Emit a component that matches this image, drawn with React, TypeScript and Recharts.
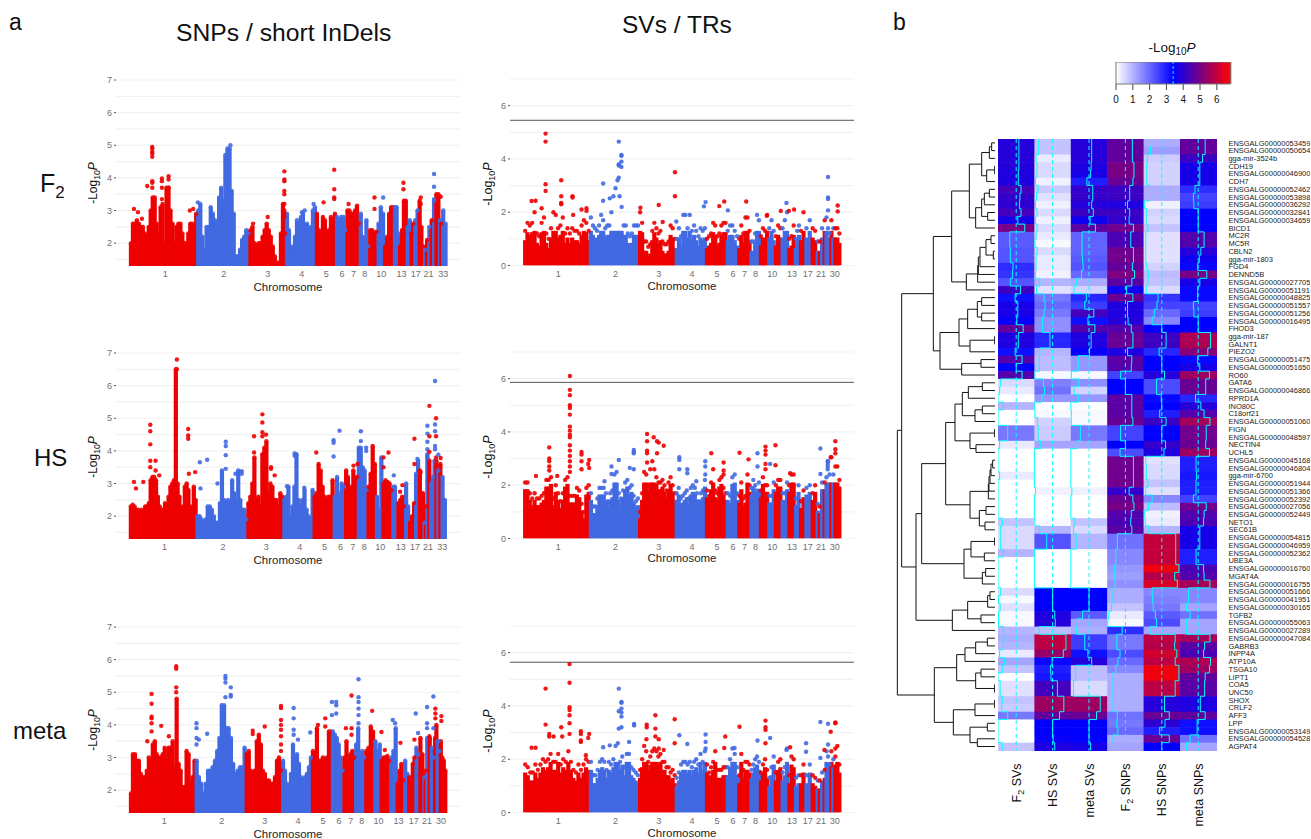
import {
  ComposedChart, ScatterChart, Scatter, Bar, XAxis, YAxis, CartesianGrid, ReferenceLine,
} from "recharts";

const RED = "#ee0000";
const BLUE = "#4169e1";
const FONT = "'Liberation Sans', Arial, sans-serif";

const f2SnpWidths = [202,157,110,90,60,32,40,28,25,20,30,15,23,12,10,14,16,6,6,8,6,8,12,4,4,14];
const hsSnpWidths = [200,153,108,91,60,35,38,29,25,20,30,15,23,12,18,12,14,5,3,6,6,15,6,6,6,14];
const metaSnpWidths = [197,151,109,90,60,35,35,30,27,20,28,20,22,13,21,12,12,6,2,7,8,10,8,9,18];
const svWidths = [198,148,110,91,62,35,37,28,25,20,20,20,20,15,15,20,15,8,4,10,6,14,6,6,18];

const f2SnpTicks = [106,282,414,516,590,637,672,706,755,816,859,897,942];
const hsSnpTicks = [104,280,410,510,585,633,670,704,752,814,857,896,939];
const metaSnpTicks = [103,276,405,505,580,628,664,697,747,807,853,893,935];
const svTicks = [103,275,405,505,580,628,663,696,746,806,853,893,934];
const tickNamesA = ["1","2","3","4","5","6","7","8","10","13","17","21","33"];
const tickNamesB = ["1","2","3","4","5","6","7","8","10","13","17","21","30"];

// envelope of the point cloud, one list per chromosome
const f2SnpTops = [
  [2.0,2.6,2.6,2.7,2.6,2.5,2.5,2.3,2.2,2.5,3.0,3.4,3.4,2.6,2.3,3.1,3.2,2.0,3.7,3.7,3.0,2.6,2.0,2.5,2.6,2.6,2.3,2.0,2.0,2.3,2.6,2.6,2.5,2.9],
  [3.0,3.2,2.2,1.8,2.5,2.5,3.1,2.9,2.7,2.4,3.4,3.7,3.3,4.7,4.9,4.9,3.6,2.9,1.6,1.6,1.8,2.1,2.2,2.4,2.3],
  [2.4,2.5,2.0,1.9,2.0,2.0,2.2,2.4,2.6,2.4,2.2,1.9,1.6,1.4,1.4,2.3,3.2,2.3],
  [2.9,2.4,1.9,1.7,2.2,2.7,2.5,2.8,2.9,2.2,2.6,2.4,2.5,3.0,3.1],
  [2.9,2.4,2.3,2.8,2.7,2.3,2.4,2.8,2.4,2.9],
  [2.8,2.7,2.8,2.8,2.4],
  [3.0,3.0,2.9,2.9,3.0,3.15,2.6],
  [2.9,2.2,2.1,2.7,1.9],
  [2.4,2.4,2.3,2.35],
  [2.6,3.1,2.9],
  [1.9,2.2,2.9,3.1,3.1],
  [3.1,3.1,2.3],
  [1.9,2.4,3.3,3.3],
  [2.5,2.7],
  [2.3,2.6],
  [2.7,3.0],
  [3.3,2.5,1.9],
  [1.8],[2.1],[2.5],[2.7],[3.3],[3.5,3.5],[2.7],[2.6],[3.0,2.6],
];
const f2SnpHits = [
  [12,3.05],[24,2.95],[36,2.75],[52,3.75],[67,4.95,4.9,4.8,4.75,4.65,3.9,3.85,3.7],[96,3.98,3.9,3.7,3.35],
  [116,4.05,3.95,3.7],[180,3.0],[190,3.05],[204,3.25],[302,5.0],[370,2.6],[414,2.8],
  [464,4.2,3.95,3.9,3.6,3.5,3.2,3.0,2.9,2.8],[517,2.95],[525,3.0],[552,3.2],[582,3.25],[614,4.25,3.65,3.4,3.35],
  [657,3.2],[735,3.4,3.05],[761,3.4],[822,3.85,3.65],[874,3.4,3.2],[914,4.12,3.73,3.35],[934,3.42],
];

const hsSnpTops = [
  [2.3,2.35,2.3,2.2,2.2,2.1,2.2,2.1,2.3,2.3,2.4,3.1,3.2,3.2,3.1,2.6,2.3,2.2,2.2,2.4,2.2,2.6,2.9,3.0,3.1,6.5,3.0,2.6,2.3,2.2,2.9,3.0,2.8,2.3,1.5,2.9,2.5],
  [2.0,2.0,1.9,1.8,1.9,2.3,2.3,2.2,2.0,1.8,1.8,2.4,3.4,2.5,2.4,2.5,2.4,3.1,2.7,2.4,3.4,2.5,2.2,2.2,1.9],
  [2.4,2.6,3.0,3.8,2.5,2.6,2.3,3.9,4.1,4.3,2.7,3.0,2.9,2.5,2.5,2.3,2.7,2.6],
  [2.5,2.6,2.9,2.0,2.3,2.9,3.9,2.5,2.3,2.5,2.8,2.2,2.0,1.9,2.8],
  [2.6,2.7,3.6,3.4,2.9,2.6,2.5,2.6,2.6,3.1],
  [2.6,3.2,2.7,3.0,2.9],
  [3.4,3.2,2.2,2.9,3.4,3.1,3.2],
  [4.1,4.1,3.5,3.4,2.8],
  [2.9,3.3,4.15,3.6],
  [2.6,2.2,3.8],
  [3.0,3.1,3.05,3.0,2.8],
  [2.9,2.9,2.4],
  [2.4,2.5,2.6,2.3],
  [3.0,2.3],
  [1.8,2.0,2.4],
  [3.3,3.7],
  [3.4,2.7,2.7],
  [1.8],[2.3],[3.9],[3.7],[3.0,3.2,3.7],[3.7],[3.4],[3.6],[3.2,2.5],
];
const hsSnpHits = [
  [12,3.05],[18,2.85],[40,3.05],[61,4.8,4.6,4.2,3.7,3.5],[77,3.7,3.4],[88,3.25],[141,6.8,6.5],[175,4.67,4.47,4.37],
  [177,3.3],[196,3.35],[210,3.65],[212,2.85],[232,3.73],[263,3.0],[288,4.28,4.15,3.87,3.45],[317,3.3],[336,3.38,3.3],
  [373,4.45,3.95],[398,5.12,4.87,4.57,4.45],[409,4.5],[424,3.5,3.45],[435,3.25],[472,2.92],[495,3.92,3.85],[524,2.87],
  [560,3.95],[612,4.33,4.25,3.83],[630,4.62],[672,3.55],[684,3.6],[694,4.6,4.3],[710,4.1,4.0],[762,3.8,3.5],[777,3.95],
  [793,3.25],[812,2.75],[819,2.95],[855,4.37,3.6],[864,3.75],[874,3.35],[894,4.77,4.53,4.28,4.05,3.8],[900,5.38,4.45,3.97],
  [917,6.14,4.81,4.6,4.15,4.05],[920,5.0,4.45,3.8],[927,3.88],[934,3.78],
];

const metaSnpTops = [
  [1.9,3.1,3.1,2.9,2.9,2.5,2.4,2.4,2.6,3.0,2.9,3.4,3.5,3.1,3.0,3.0,3.1,3.3,2.9,3.3,3.3,3.5,2.7,4.8,2.8,2.6,2.1,2.1,3.2,3.1,2.2,2.4,2.9],
  [2.9,2.4,2.2,1.9,2.2,2.6,2.6,2.7,2.9,3.2,3.6,4.6,4.6,3.9,3.9,3.6,2.8,2.5,2.6,2.7,2.7,3.3],
  [3.1,3.2,2.6,2.5,2.6,3.5,3.7,3.4,2.6,2.5,2.3,2.3,2.2,2.2,2.4,2.9,3.0,2.6],
  [2.9,2.6,2.2,1.8,2.5,3.4,3.0,3.1,2.8,2.4,2.3,2.4,2.5,2.7,3.0],
  [3.2,3.0,3.9,2.9,2.9,3.0,2.9,3.0,3.8,3.8],
  [3.8,3.7,3.6,3.4,3.0,2.6],
  [3.0,3.5,2.9,3.1,3.2,3.0],
  [3.4,3.9,3.0,3.2,3.0],
  [3.2,3.3,3.95,3.8],
  [3.5,3.2,3.4],
  [2.9,3.0,3.0,3.05,2.9],
  [3.0,3.2,3.9],
  [2.2,2.6,2.8,2.3],
  [2.9,2.5],
  [2.4,2.2,2.8,3.0],
  [3.3,3.1],
  [3.6,3.1],
  [2.4],[2.6],[3.6],[3.6],[3.3,3.0],[3.6,4.0],[3.5,3.2],[3.5,3.0,2.9,2.6],
];
const metaSnpHits = [
  [52,3.5],[65,4.95,4.65,4.25,4.2,4.05,3.8],[94,3.97],[117,3.65],[139,5.8,5.72,5.15,5.0],[200,4.05,3.9,3.6,3.4],[207,3.55],
  [232,3.73],[287,5.5,5.42,5.3,4.85],[303,5.15,4.92,4.87],[369,3.82,3.72],[405,3.95],[454,4.58,4.52,4.15,4.0,3.85,3.65,3.4,3.2],
  [492,4.52,4.2,3.85,3.7],[505,3.55],[542,3.77],[565,4.0],[587,4.2,3.95],[607,4.7,4.3],[620,4.7,4.6,4.35],[649,3.9],[666,4.9,3.9,3.7],
  [687,5.4,4.85,4.7,4.5,4.3,4.05],[728,4.43],[756,3.78],[766,3.23],[790,4.15],[797,4.05],[813,3.45],[859,4.35],[855,3.55],[866,3.75],
  [893,4.55,4.05,3.9],[900,3.65],[912,4.87,3.9],[918,4.5,4.35,4.2],[927,3.5],[936,4.27,4.12],
];

const f2SvTops = [
  [1.3,1.6,1.5,1.6,2.0,1.2,1.1,1.6,1.8,1.2,1.0,1.4,2.0,1.9,1.4,1.5,1.8,1.2,1.4,1.2,1.4,1.3,1.3,1.2,1.5,1.7,1.6,1.3],
  [1.8,1.5,1.4,1.3,1.5,1.9,1.7,1.4,1.5,1.5,2.0,2.6,2.9,3.2,2.6,2.2,1.5,1.5,1.2,1.1,1.2,1.5,1.5,1.5],
  [2.0,1.6,0.9,0.9,0.7,0.8,1.3,1.6,1.4,1.2,1.3,0.9,0.8,0.8,0.9,1.5,1.4,1.0],
  [1.0,1.4,1.1,1.9,1.9,1.4,1.9,1.3,1.5,1.3,1.1,1.4,1.3,1.4],
  [1.0,1.1,1.2,1.6,1.5,1.1,1.2,1.5,1.6,1.6],
  [1.3,1.5,1.5,1.3,1.1],
  [1.0,1.5,1.2,1.8,1.8,1.3],
  [0.9,0.9,1.2,1.9,1.7],
  [1.1,1.4,1.3,1.9],
  [1.4,1.7,1.3],
  [1.1,1.5,1.4],
  [1.4,1.7,2.0],
  [1.0,1.1,1.5],
  [1.0,1.3,1.5],
  [1.3,2.0],
  [1.4,1.7],
  [1.4,1.3],
  [0.9],[0.9],[1.4],[1.7],[1.8,1.4,1.2],[1.7],[1.4],[1.4,1.4,1.2],
];
const f2SvHits = [
  [65,4.95,4.65,3.05,2.8],[23,2.42],[35,2.43],[53,2.15],[112,3.2,2.6,2.35,2.3],[146,2.6,2.55],[148,1.9],[173,2.1],[188,2.15,2.05],
  [238,3.08,2.43],[258,2.52],[285,4.65,3.8,3.75,3.3],[293,4.15,4.12,3.9,3.7],[350,2.17],[405,2.27],[417,1.63],[454,3.5,2.6],[458,1.65],
  [541,2.22],[546,2.38],[587,2.23],[602,2.4],[613,2.07],[668,2.4],[730,1.87],[772,2.05],[789,2.35],[796,2.05],[812,2.1],[914,3.32,2.55,2.5,2.07],[943,2.25,2.03],
];

const hsSvTops = [
  [2.1,2.1,1.7,1.5,1.7,1.5,1.5,1.6,1.7,2.2,2.2,2.3,1.5,2.0,1.7,1.4,1.7,2.2,2.3,1.6,1.6,1.6,1.9,1.8,1.3,1.0,1.9,2.0],
  [1.7,1.2,1.2,1.5,1.9,1.9,1.9,1.7,1.4,1.7,1.8,2.4,2.5,1.7,1.5,1.8,2.1,2.2,1.9,2.0,1.6,1.4,1.5],
  [1.0,1.7,2.5,2.4,2.0,2.6,2.9,2.6,2.3,2.1,2.1,2.2,2.0,1.8,2.1,2.3,2.0,1.7],
  [1.7,1.9,1.5,1.6,1.7,1.8,1.5,1.9,2.0,1.9,1.7,1.4,1.7,1.8,2.2],
  [1.8,1.6,2.1,2.6,1.8,1.7,2.2,2.3,1.9,1.7],
  [1.7,1.6,2.3,2.4,1.7],
  [1.6,2.1,1.5,1.6,2.4,2.0],
  [1.9,2.2,2.0,1.8,2.1],
  [1.8,2.3,2.0,2.0],
  [1.6,1.6,2.1],
  [2.0,2.2,2.2],
  [1.7,1.7,2.1],
  [2.0,2.4,2.4],
  [1.5,2.0],
  [1.4,1.8],
  [1.9,2.0],
  [1.7,2.0],
  [1.3],[1.2],[2.1],[2.1],[2.3,2.9,2.4],[3.05],[2.4],[2.7,2.7,2.2],
];
const hsSvHits = [
  [36,2.35],[76,3.42,3.0,2.9,2.7,2.55],[100,2.35],[138,6.1,5.58,5.38,5.0,4.9,4.65,4.2,4.05,3.9,3.8,3.5,3.3,3.1,2.9,2.7,2.5],
  [173,3.25,3.15,2.9,2.6],[193,2.8],[196,2.95,2.65],[242,2.15],[263,2.7,2.42],[285,2.95],[318,2.65],[330,3.32,3.25,3.2,2.6],
  [370,3.92,3.65,3.3,3.2,2.85],[390,3.8],[400,3.65,3.2],[405,3.6],[420,3.48],[467,3.05,2.95,2.6],[491,2.6,2.45],[518,2.15],[545,2.9,2.7,2.4],
  [563,3.2],[600,2.85,2.55,2.4],[648,3.22],[675,2.97],[702,3.2,2.7],[726,3.45,3.3,3.15,2.8,2.6],[740,2.8],[756,3.5,2.75],[800,2.45],
  [891,3.38,2.42],[913,2.9,2.8,2.7,2.6],[922,3.05],[936,3.65,3.35,3.2],
];

const metaSvTops = [
  [1.8,1.7,1.5,1.5,1.8,1.6,1.8,2.0,1.9,2.0,2.2,1.9,1.9,2.2,1.8,2.0,1.9,2.3,1.9,1.6,1.5,1.8,1.6,1.8,2.0,1.9],
  [1.9,1.4,1.4,1.6,1.9,2.0,1.9,1.6,1.9,1.8,2.0,2.5,2.6,1.9,2.1,1.7,2.2,2.2,1.7,1.6,1.5,1.4],
  [1.6,2.0,2.5,2.3,1.9,2.1,2.3,2.4,2.3,2.1,2.2,1.9,1.9,1.7,1.7,1.5,1.6,1.4],
  [1.3,1.5,1.8,1.9,1.9,1.8,1.9,1.7,1.9,2.0,1.8,2.2,1.9,2.3],
  [1.8,1.5,1.7,1.9,2.3,1.6,1.6,1.6,1.7,1.7],
  [1.7,2.0,2.4,2.2,1.7],
  [1.4,2.2,1.6,1.9,1.9,1.8],
  [1.6,1.8,2.0,2.1,1.9],
  [1.5,1.8,2.0,1.6],
  [1.3,1.7,2.1],
  [1.5,1.9,2.0],
  [1.5,1.7,2.4],
  [1.4,2.1,2.0],
  [1.3,1.4],
  [1.4,1.8],
  [1.4,1.8],
  [1.4,1.3],
  [1.2],[1.2],[1.5],[1.6],[2.3,2.1,1.8],[2.3],[2.0],[2.1,2.5,1.8],
];
const metaSvHits = [
  [65,4.65,3.3],[23,2.43],[35,2.43],[76,2.95,2.85],[89,2.85],[112,3.2],[115,2.85],[137,5.57,4.87,3.95,3.85,3.65,3.35,2.95],
  [171,3.05,2.95,2.7,2.65],[186,2.15],[193,2.8],[196,2.95],[238,2.45],[258,2.52],[285,4.65,3.8,3.15],[293,4.15,4.12,3.9,3.75,3.6,3.2],
  [316,2.65],[331,3.32,3.27],[369,3.3,3.2],[368,2.75],[395,3.65,3.15,2.85],[405,2.75,2.4],[420,2.35],[453,3.5,2.6],[467,2.9],[491,2.57],[546,2.93,2.65,2.4],
  [602,2.42],[605,2.85],[633,2.42],[648,3.22],[702,2.7],[726,3.45,3.2,3.1,2.6],[740,2.8],[789,2.35],[800,2.45],[848,2.6,2.28],[891,3.4,2.05],
  [903,2.35],[914,3.33,2.55],[922,3.03],[936,3.38,3.35,2.4],
];

const snpYTicks = [2,3,4,5,6,7];
const snpGrid = [1.5,2,2.5,3,3.5,4,4.5,5,5.5,6,6.5,7];
const svYTicks = [0,2,4,6];
const svGrid = [0,1,2,3,4,5,6,7];

const genes = [
  "ENSGALG00000053459","ENSGALG00000050654","gga-mir-3524b","CDH19","ENSGALG00000046900","CDH7","ENSGALG00000052462","ENSGALG00000053898",
  "ENSGALG00000036292","ENSGALG00000032841","ENSGALG00000034659","BICD1","MC2R","MC5R","CBLN2","gga-mir-1803","FGD4","DENND5B",
  "ENSGALG00000027705","ENSGALG00000051191","ENSGALG00000048825","ENSGALG00000051557","ENSGALG00000051256","ENSGALG00000016495","FHOD3",
  "gga-mir-187","GALNT1","PIEZO2","ENSGALG00000051475","ENSGALG00000051650","RO60","GATA6","ENSGALG00000046866","RPRD1A","INO80C","C18orf21",
  "ENSGALG00000051060","FIGN","ENSGALG00000048597","NECTIN4","UCHL5","ENSGALG00000045168","ENSGALG00000046804","gga-mir-6700",
  "ENSGALG00000051944","ENSGALG00000051366","ENSGALG00000052392","ENSGALG00000027056","ENSGALG00000052449","NETO1","SEC61B",
  "ENSGALG00000054815","ENSGALG00000046959","ENSGALG00000052362","UBE3A","ENSGALG00000016760","MGAT4A","ENSGALG00000016755",
  "ENSGALG00000051666","ENSGALG00000041951","ENSGALG00000030165","TGFB2","ENSGALG00000055063","ENSGALG00000027289","ENSGALG00000047084",
  "GABRB3","INPP4A","ATP10A","TSGA10","LIPT1","COA5","UNC50","SHOX","CRLF2","AFF3","LPP","ENSGALG00000053149","ENSGALG00000054528","AGPAT4",
];

const f2Svs = [3.9,3.9,3.9,3.9,3.8,3.8,4.3,4.1,4.0,4.3,3.7,5.0,2.2,2.2,2.3,2.3,2.8,2.7,2.3,4.2,3.2,3.7,3.7,3.5,4.7,3.8,3.8,3.2,4.5,3.4,4.5,.5,.3,0,1.0,0,0,1.8,1.8,.3,0,0,0,.3,0,0,0,0,0,.8,.5,.5,.5,1.0,0,0,0,0,.5,.1,.4,.1,.1,1.0,1.1,1.0,.3,1.2,.8,0,.4,.4,.8,.7,1.8,0,0,0,.8];
const hsSvs = [.8,.8,.3,.5,.5,.2,.7,.4,.2,.5,.2,.5,.3,.1,.5,.3,.3,.2,1.0,.4,1.8,2.0,1.8,1.5,1.5,2.9,2.9,1.0,.9,.9,.1,1.7,1.9,1.4,0,.1,.6,.7,.7,1.2,0,0,0,0,0,.2,0,0,0,.1,1.0,2.3,2.3,0,0,0,0,0,3.4,3.4,3.4,3.8,3.9,.9,5.9,5.9,5.4,3.3,3.0,3.1,4.3,4.3,5.5,5.5,4.7,3.4,3.4,3.5,3.8];
const metaSvs = [3.9,3.9,3.9,3.8,3.7,3.0,4.1,4.1,3.9,4.2,3.6,4.6,2.1,2.1,2.1,2.2,2.3,2.0,1.1,.6,2.9,2.6,4.3,3.2,4.5,3.8,3.8,3.5,1.4,1.4,.1,1.5,.6,1.4,0,.1,.1,1.8,1.8,1.2,0,0,0,0,0,.2,0,0,0,.8,.5,1.0,1.0,0,0,0,0,0,3.4,3.4,3.4,2.2,1.2,1.1,2.6,2.6,3.2,3.9,.9,.9,.5,.5,5.5,5.5,4.8,3.4,3.4,3.4,3.7];
const f2Snps = [4.7,4.7,4.7,5.0,5.0,4.8,4.2,4.2,3.8,4.2,4.1,4.9,4.4,4.4,4.9,4.9,4.7,5.1,4.6,3.6,4.8,3.8,3.8,3.9,4.5,4.8,4.8,3.8,4.6,4.5,2.5,3.4,3.4,4.6,4.6,4.6,4.8,2.5,2.5,3.4,2.4,4.9,4.9,4.9,4.9,4.1,4.8,5.0,4.5,4.4,4.6,1.9,1.9,1.6,1.6,1.4,1.3,1.5,1.1,1.1,.8,.3,.1,2.8,1.8,1.8,2.4,2.0,1.6,1.1,1.1,1.1,1.1,1.1,1.9,1.8,2.0,1.1,1.2];
const hsSnps = [1.1,1.3,.7,.6,.6,.6,1.1,1.1,.2,.6,.5,.8,.4,.4,.4,.4,.6,.9,.8,.5,2.7,2.5,2.0,1.6,3.4,4.2,4.2,2.9,3.4,3.4,3.9,2.4,2.4,3.3,3.4,3.0,4.2,3.4,3.4,4.1,3.8,.4,.5,.5,.8,.4,1.6,.9,.2,.3,1.0,6.0,6.0,6.0,6.0,6.6,5.8,6.3,1.6,1.7,1.8,2.2,2.4,1.2,5.9,5.8,6.2,5.9,6.6,6.6,5.9,5.9,3.9,3.9,4.8,4.0,3.0,4.8,3.4];
const metaSnps = [4.7,4.7,4.2,3.7,3.7,3.7,2.8,2.5,2.6,3.4,3.4,3.4,4.5,4.5,3.9,3.6,3.3,5.0,3.7,3.3,3.3,2.5,2.6,3.4,3.4,5.7,5.7,5.2,3.3,3.7,5.5,4.8,4.8,2.9,3.9,4.5,5.6,4.9,4.9,4.8,5.5,3.0,3.0,3.1,3.0,3.0,2.5,4.9,4.5,4.4,3.7,3.7,3.7,3.0,3.0,4.4,4.5,5.6,1.6,1.6,1.2,1.9,1.2,1.2,5.6,4.6,4.4,5.7,5.5,4.7,4.6,4.6,3.8,3.8,4.7,3.2,3.2,1.9,1.2];
const heatColumns = [f2Svs, hsSvs, metaSvs, f2Snps, hsSnps, metaSnps];

const KEY_MAX = 6.8;
const KEY_MID = 3.4;
const keyTicks = [0,1,2,3,4,5,6];

function heatColor(v: number) {
  if (v <= KEY_MID) {
    const c = Math.round(255 * (1 - v / KEY_MID));
    return `rgb(${c},${c},255)`;
  }
  const t = (v - KEY_MID) / (KEY_MAX - KEY_MID);
  return `rgb(${Math.round(255 * t)},0,${Math.round(255 * (1 - t))})`;
}

// dendrogram: [height, left, right], a 0 child is a leaf
const n = (h: number, a: any, b: any) => [h, a, b];
const g1_3 = n(17, n(10,0,0), 0);
const g4_6 = n(25, n(1,0,0), 0);
const g7_11 = n(40, n(32, n(17,0,0), 0), n(22,0,0));
const g1_12 = n(77, n(40, g1_3, g4_6), n(58, g7_11, 0));
const g13_16 = n(27, n(12,0,0), n(5,0,0));
const g13_20 = n(86, n(52, n(50, n(45, g13_16, 0), 0), 0), 0);
const g21_25 = n(82, n(53, n(40,0,0), n(40,0,0)), 0);
const g21_28 = n(108, g21_25, n(75, n(1,0,0), 0));
const g21_31 = n(165, g21_28, n(100, n(42,0,0), 0));
const g1_31 = n(185, n(130, g1_12, g13_20), g21_31);
const g32_37 = n(98, n(80, n(38,0,0), 0), n(60, n(38,0,0), 0));
const g32_41 = n(120, g32_37, n(75, n(1,0,0), n(57,0,0)));
const g42_47 = n(20, n(18, n(15, n(12, n(7,0,0), 0), 0), 0), 0);
const g42_51 = n(75, g42_47, n(47, n(27,0,0), n(30,0,0)));
const g52_58 = n(93, n(72, n(1,0,0), n(32,0,0)), n(38, n(28,0,0), 0));
const g32_58 = n(220, n(148, g32_41, g42_51), g52_58);
const g59_64 = n(128, n(82, n(22, n(15,0,0), 0), n(42,0,0)), 0);
const g65_72 = n(115, n(90, n(58, n(23,0,0), 0), 0), n(58, n(42,0,0), n(1,0,0)));
const g73_79 = n(125, n(60, n(1,0,0), 0), n(75, n(23,0,0), n(53,0,0)));
const treeRoot = n(293, n(280, g1_31, n(237, g32_58, g59_64)), n(182, g65_72, g73_79));

function treeBrackets() {
  const out: { x: number; y: number }[][] = [];
  let leaf = 0;
  const walk = (node: any): { h: number; y: number } => {
    if (node === 0) {
      leaf += 1;
      return { h: 0, y: leaf - 0.5 };
    }
    const a = walk(node[1]);
    const b = walk(node[2]);
    out.push([{ x: a.h, y: a.y }, { x: node[0], y: a.y }, { x: node[0], y: b.y }, { x: b.h, y: b.y }]);
    return { h: node[0], y: (a.y + b.y) / 2 };
  };
  walk(treeRoot);
  return out;
}

// solid is the part of a column that reads as a filled mass, the top point sits above it
function buildColumns(widths: number[], tops: number[][], solidCap: number, solidDrop: number) {
  const cols: any[] = [];
  let start = 0;
  widths.forEach((w, i) => {
    const list = tops[i];
    list.forEach((y, j) => {
      cols.push({
        x: start + ((j + 0.5) * w) / list.length,
        y,
        solid: Math.min(y - solidDrop, solidCap),
        fill: i % 2 ? BLUE : RED,
      });
    });
    start += w;
  });
  return cols;
}

function buildHits(widths: number[], hits: number[][]) {
  const pts: any[] = [];
  hits.forEach(([x, ...vals]) => {
    let start = 0;
    let idx = 0;
    while (idx < widths.length - 1 && x >= start + widths[idx]) {
      start += widths[idx];
      idx += 1;
    }
    vals.forEach((y) => pts.push({ x, y, fill: idx % 2 ? BLUE : RED }));
  });
  return pts;
}

const dot = (p: any) => <circle cx={p.cx} cy={p.cy} r={2.2} fill={p.payload.fill} fillOpacity={0.9} />;
const column = (p: any) => (
  <rect x={p.x + p.width / 2 - 2.1} y={p.y} width={4.2} height={p.height} fill={p.payload.fill} />
);

function Manhattan({ left, top, height, widths, tops, hits, ticks, tickNames, domain, yTicks, grid, threshold, solidCap = 99, solidDrop = 0 }: any) {
  const columns = buildColumns(widths, tops, solidCap, solidDrop);
  const points = buildHits(widths, hits);
  return (
    <div style={{ position: "absolute", left: left - 30, top: top - 5 }}>
      <ComposedChart
        width={344 + 35}
        height={height + 5 + 24}
        data={columns}
        margin={{ top: 5, right: 5, bottom: 0, left: 0 }}
      >
        <CartesianGrid vertical={false} horizontalValues={grid} stroke="#f1f1f1" strokeWidth={1.2} />
        <XAxis
          type="number"
          dataKey="x"
          domain={[-42, 992]}
          ticks={ticks}
          interval={0}
          allowDataOverflow
          height={24}
          axisLine={false}
          tickLine={false}
          tickSize={0}
          tickMargin={5}
          tick={{ fontSize: 9, fill: "#6f6f6f", fontFamily: FONT }}
          tickFormatter={(v: number) => tickNames[ticks.indexOf(v)]}
        />
        <YAxis
          type="number"
          dataKey="y"
          domain={domain}
          ticks={yTicks}
          interval={0}
          allowDataOverflow
          width={30}
          axisLine={false}
          tickSize={2}
          tickMargin={2}
          tickLine={{ stroke: "#555" }}
          tick={{ fontSize: 9, fill: "#6f6f6f", fontFamily: FONT }}
        />
        <Bar dataKey="solid" shape={column} isAnimationActive={false} />
        <Scatter data={columns} dataKey="y" shape={dot} isAnimationActive={false} />
        <Scatter data={points} dataKey="y" shape={dot} isAnimationActive={false} />
        {threshold != null && <ReferenceLine y={threshold} stroke="#555" strokeWidth={1} />}
      </ComposedChart>
    </div>
  );
}

const HEAT_W = 218.4;
const HEAT_H = 611.4;
const CELL_W = HEAT_W / heatColumns.length;
const CELL_H = HEAT_H / genes.length;
const columnLabels = [["F","2"," SVs"],["HS SVs"],["meta SVs"],["F","2"," SNPs"],["HS SNPs"],["meta SNPs"]];

const heatCell = (p: any) => (
  <rect x={p.cx - CELL_W / 2} y={p.cy - CELL_H / 2} width={CELL_W + 0.6} height={CELL_H + 0.6} fill={p.payload.fill} />
);
const noDot = () => <g />;

function ColumnTick({ x, y, payload }: any) {
  const parts = columnLabels[Math.round(payload.value - 0.5)];
  return (
    <text
      transform={`translate(${x + 4.5},${y + 5}) rotate(-90)`}
      textAnchor="end"
      fontSize={12.5}
      fontFamily={FONT}
      fill="#111"
    >
      {parts[0]}
      {parts[1] && <tspan fontSize={9} dy={3}>{parts[1]}</tspan>}
      {parts[2] && <tspan dy={-3}>{parts[2]}</tspan>}
    </text>
  );
}

function Heatmap() {
  const rowTicks = genes.map((_, i) => i + 0.5);
  const colTicks = heatColumns.map((_, i) => i + 0.5);
  return (
    <div style={{ position: "absolute", left: 998.3, top: 139 }}>
      <ScatterChart width={312} height={HEAT_H + 90} margin={{ top: 0, right: 0, bottom: 0, left: 0 }}>
        <XAxis
          type="number"
          dataKey="x"
          domain={[0, 6]}
          ticks={colTicks}
          interval={0}
          height={90}
          axisLine={false}
          tickLine={false}
          tick={<ColumnTick />}
        />
        <YAxis
          type="number"
          dataKey="y"
          orientation="right"
          domain={[0, genes.length]}
          reversed
          ticks={rowTicks}
          interval={0}
          width={312 - HEAT_W}
          axisLine={false}
          tickLine={false}
          tickSize={0}
          tickMargin={12}
          tick={{ fontSize: 7.5, fill: "#222", fontFamily: FONT }}
          tickFormatter={(v: number) => genes[Math.round(v - 0.5)]}
        />
        {heatColumns.map((vals, c) => (
          <Scatter
            key={c}
            data={vals.map((v, r) => ({ x: c + 0.5, y: r + 0.5, fill: heatColor(v) }))}
            shape={heatCell}
            isAnimationActive={false}
          />
        ))}
        {colTicks.map((x) => (
          <Scatter
            key={`d${x}`}
            data={[{ x, y: 0 }, { x, y: genes.length }]}
            line={{ stroke: "#00ffff", strokeWidth: 1, strokeDasharray: "4 3" }}
            shape={noDot}
            isAnimationActive={false}
          />
        ))}
        {heatColumns.map((vals, c) => (
          <Scatter
            key={`t${c}`}
            data={vals.flatMap((v, r) => [{ x: c + v / KEY_MAX, y: r }, { x: c + v / KEY_MAX, y: r + 1 }])}
            line={{ stroke: "#00ffff", strokeWidth: 1 }}
            shape={noDot}
            isAnimationActive={false}
          />
        ))}
      </ScatterChart>
    </div>
  );
}

function Dendrogram() {
  const brackets = treeBrackets();
  return (
    <div style={{ position: "absolute", left: 890, top: 139 }}>
      <ScatterChart width={105} height={HEAT_H} margin={{ top: 0, right: 0, bottom: 0, left: 0 }}>
        <XAxis type="number" dataKey="x" domain={[0, 315]} reversed hide />
        <YAxis type="number" dataKey="y" domain={[0, genes.length]} reversed hide />
        {brackets.map((b, i) => (
          <Scatter key={i} data={b} line={{ stroke: "#111", strokeWidth: 1 }} shape={noDot} isAnimationActive={false} />
        ))}
      </ScatterChart>
    </div>
  );
}

const KEY_CELLS = 68;

function ColorKey() {
  const keyW = 114.3;
  const step = KEY_MAX / KEY_CELLS;
  const cells = Array.from({ length: KEY_CELLS }, (_, i) => ({ x: (i + 0.5) * step, y: 0.5, fill: heatColor((i + 0.5) * step) }));
  const keyCell = (p: any) => (
    <rect x={p.cx - keyW / KEY_CELLS / 2} y={p.cy - 11} width={keyW / KEY_CELLS + 1} height={22} fill={p.payload.fill} />
  );
  const frame = [{ x: 0, y: 0 }, { x: KEY_MAX, y: 0 }, { x: KEY_MAX, y: 1 }, { x: 0, y: 1 }, { x: 0, y: 0 }];
  return (
    <div style={{ position: "absolute", left: 1105.7, top: 62.3 }}>
      <ScatterChart width={134.3} height={52} margin={{ top: 0, right: 10, bottom: 0, left: 10 }}>
        <XAxis
          type="number"
          dataKey="x"
          domain={[0, KEY_MAX]}
          ticks={keyTicks}
          interval={0}
          height={30}
          axisLine={false}
          tickSize={6}
          tickMargin={6}
          tickLine={{ stroke: "#444" }}
          tick={{ fontSize: 10, fill: "#111", fontFamily: FONT }}
        />
        <YAxis type="number" dataKey="y" domain={[0, 1]} hide />
        <Scatter data={cells} shape={keyCell} isAnimationActive={false} />
        <Scatter data={frame} line={{ stroke: "#777", strokeWidth: 1 }} shape={noDot} isAnimationActive={false} />
        <Scatter
          data={[{ x: KEY_MID, y: 0 }, { x: KEY_MID, y: 1 }]}
          line={{ stroke: "#00ffff", strokeWidth: 1, strokeDasharray: "3 2" }}
          shape={noDot}
          isAnimationActive={false}
        />
      </ScatterChart>
    </div>
  );
}

function LogLabel({ x, y, size = 12 }: { x: number; y: number; size?: number }) {
  return (
    <text transform={`translate(${x},${y}) rotate(-90)`} textAnchor="middle" fontSize={size} fill="#111">
      -Log<tspan fontSize={size * 0.72} dy={2.5}>10</tspan><tspan dy={-2.5} fontStyle="italic">P</tspan>
    </text>
  );
}

function Annotations() {
  const chromLabels = [[288, 291],[288, 564],[288, 838],[682, 290],[682, 562],[682, 837]];
  return (
    <svg width={1311} height={839} style={{ position: "absolute", left: 0, top: 0, pointerEvents: "none" }} fontFamily={FONT}>
      <text x={9} y={30} fontSize={23} fill="#111">a</text>
      <text x={893} y={30} fontSize={23} fill="#111">b</text>
      <text x={176} y={41} fontSize={24.7} fill="#111">SNPs / short InDels</text>
      <text x={622} y={33} fontSize={24.5} fill="#111">SVs / TRs</text>
      <text x={40} y={192} fontSize={25} fill="#111">F<tspan fontSize={17} dy={6}>2</tspan></text>
      <text x={34} y={466} fontSize={24} fill="#111">HS</text>
      <text x={13} y={739} fontSize={24} fill="#111">meta</text>
      <LogLabel x={97} y={183} />
      <LogLabel x={97} y={457} />
      <LogLabel x={97} y={730} />
      <LogLabel x={492} y={184} size={12.5} />
      <LogLabel x={492} y={457} size={12.5} />
      <LogLabel x={492} y={731} size={12.5} />
      {chromLabels.map(([x, y]) => (
        <text key={`${x}-${y}`} x={x} y={y} fontSize={11.5} fill="#222" textAnchor="middle">Chromosome</text>
      ))}
      <text x={1172} y={52} fontSize={13.5} textAnchor="middle" fill="#111">
        -Log<tspan fontSize={10} dy={2.5}>10</tspan><tspan dy={-2.5} fontStyle="italic">P</tspan>
      </text>
    </svg>
  );
}

export default function App() {
  const snp = { domain: [1.3, 7], yTicks: snpYTicks, grid: snpGrid, height: 186 };
  const sv = { domain: [0, 7], yTicks: svYTicks, grid: svGrid, height: 186.5 };
  return (
    <div style={{ position: "absolute", left: 0, top: 0, width: 1311, height: 839, background: "#fff", overflow: "hidden" }}>
      <Manhattan left={116} top={80} widths={f2SnpWidths} tops={f2SnpTops} hits={f2SnpHits} ticks={f2SnpTicks} tickNames={tickNamesA} {...snp} />
      <Manhattan left={116} top={353.3} widths={hsSnpWidths} tops={hsSnpTops} hits={hsSnpHits} ticks={hsSnpTicks} tickNames={tickNamesA} {...snp} />
      <Manhattan left={116} top={627.3} widths={metaSnpWidths} tops={metaSnpTops} hits={metaSnpHits} ticks={metaSnpTicks} tickNames={tickNamesB} {...snp} />
      <Manhattan left={510} top={78.5} widths={svWidths} tops={f2SvTops} hits={f2SvHits} ticks={svTicks} tickNames={tickNamesB} threshold={5.45} solidCap={1.3} solidDrop={0.35} {...sv} />
      <Manhattan left={510} top={351.7} widths={svWidths} tops={hsSvTops} hits={hsSvHits} ticks={svTicks} tickNames={tickNamesB} threshold={5.86} solidCap={2.1} solidDrop={0.25} {...sv} />
      <Manhattan left={510} top={625.7} widths={svWidths} tops={metaSvTops} hits={metaSvHits} ticks={svTicks} tickNames={tickNamesB} threshold={5.64} solidCap={1.9} solidDrop={0.3} {...sv} />
      <ColorKey />
      <Dendrogram />
      <Heatmap />
      <Annotations />
    </div>
  );
}
